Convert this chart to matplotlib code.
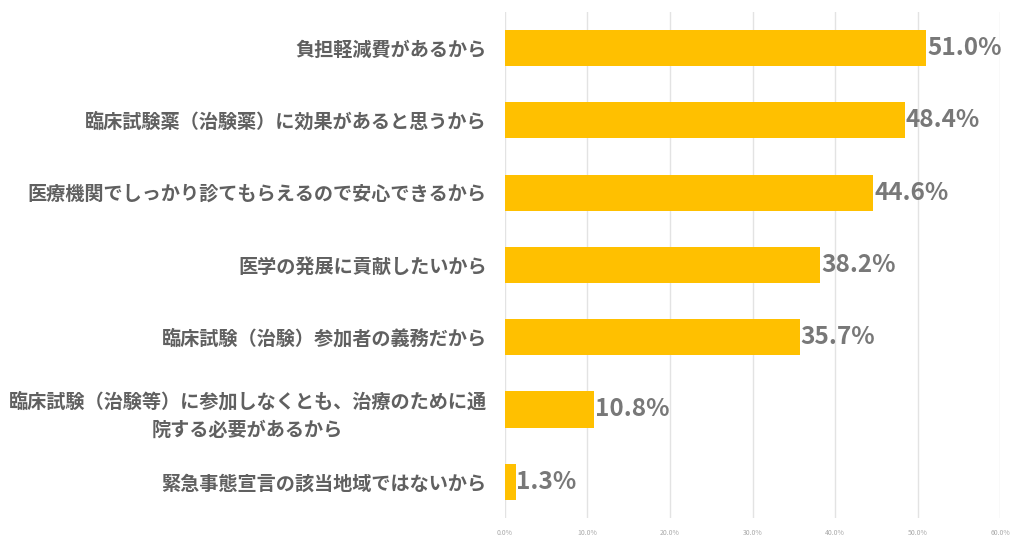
import matplotlib
matplotlib.use("Agg")
import matplotlib.pyplot as plt
import numpy as np

categories = [
    "負担軽減費があるから",
    "臨床試験薬（治験薬）に効果があると思うから",
    "医療機関でしっかり診てもらえるので安心できるから",
    "医学の発展に貢献したいから",
    "臨床試験（治験）参加者の義務だから",
    "臨床試験（治験等）に参加しなくとも、治療のために通\n院する必要があるから",
    "緊急事態宣言の該当地域ではないから",
]
values = [51.0, 48.4, 44.6, 38.2, 35.7, 10.8, 1.3]
xticks = [0, 10, 20, 30, 40, 50, 60]
xtick_labels = ["0.0%", "10.0%", "20.0%", "30.0%", "40.0%", "50.0%", "60.0%"]

plt.rcParams['font.family'] = ['Noto Sans CJK JP', 'DejaVu Sans']

fig = plt.figure(figsize=(10.24, 5.44), dpi=100)
ax = fig.add_axes([0.493, 0.048, 0.484, 0.93])

y = np.arange(len(categories))
ax.barh(y, values, height=0.5, color="#FFC000", zorder=3)
ax.set_ylim(len(categories) - 0.5, -0.5)
ax.set_xlim(0, 60)

ax.set_yticks(y)
ax.set_yticklabels(categories, fontsize=13.8, fontweight='bold', color="#606060",
                   linespacing=1.6)
for lab in ax.get_yticklabels():
    lab.set_multialignment('center')
ax.tick_params(axis='y', length=0, pad=13)

ax.set_xticks(xticks)
ax.set_xticklabels(xtick_labels, fontsize=5, color="#aaaaaa")
ax.tick_params(axis='x', length=0, pad=8)

ax.grid(axis='x', color="#e3e3e3", linewidth=1, zorder=0)
for s in ax.spines.values():
    s.set_visible(False)

for yi, v in zip(y, values):
    ax.text(v + 0.1, yi, f"{v:.1f}%", va='center', ha='left',
            fontsize=17.5, fontweight='bold', color="#787878", zorder=4)

fig.savefig("out.png", dpi=100, facecolor="white")
